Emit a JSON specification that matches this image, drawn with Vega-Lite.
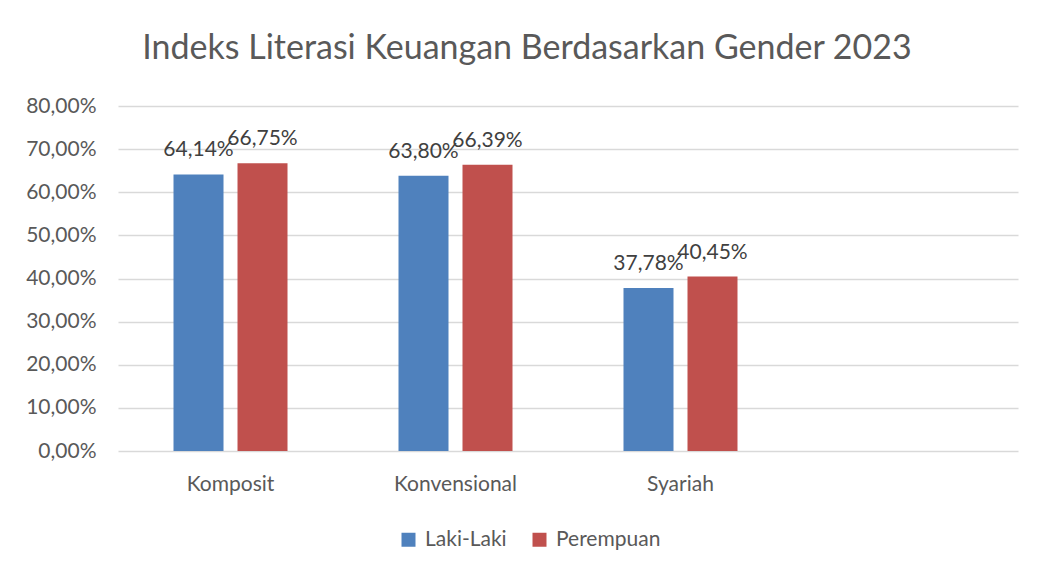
{
  "$schema": "https://vega.github.io/schema/vega-lite/v6.json",
  "width": 900,
  "height": 345,
  "autosize": {"type": "none"},
  "padding": {"left": 118, "top": 106, "right": 19, "bottom": 118},
  "background": "white",
  "config": {
    "locale": {"number": {"decimal": ",", "thousands": ".", "grouping": [3], "currency": ["Rp", ""]}},
    "font": "Lato",
    "view": {"stroke": null}
  },
  "title": {
    "text": "Indeks Literasi Keuangan Berdasarkan Gender 2023",
    "fontSize": 34,
    "font": "Lato",
    "fontWeight": "normal",
    "color": "#595959",
    "anchor": "middle",
    "frame": "group",
    "baseline": "alphabetic",
    "dx": -41,
    "offset": 2
  },
  "data": {
    "values": [
      {"kategori": "Komposit", "gender": "Laki-Laki", "nilai": 0.6414},
      {"kategori": "Komposit", "gender": "Perempuan", "nilai": 0.6675},
      {"kategori": "Konvensional", "gender": "Laki-Laki", "nilai": 0.638},
      {"kategori": "Konvensional", "gender": "Perempuan", "nilai": 0.6639},
      {"kategori": "Syariah", "gender": "Laki-Laki", "nilai": 0.3778},
      {"kategori": "Syariah", "gender": "Perempuan", "nilai": 0.4045}
    ]
  },
  "encoding": {
    "x": {
      "field": "kategori",
      "type": "nominal",
      "sort": null,
      "scale": {"domain": ["Komposit", "Konvensional", "Syariah", " "], "paddingInner": 0.4933, "paddingOuter": 0.2467},
      "axis": {
        "title": null,
        "labelAngle": 0,
        "labelFontSize": 21,
        "labelColor": "#595959",
        "labelPadding": 22,
        "ticks": false,
        "tickSize": 0,
        "domain": false,
        "grid": false
      }
    },
    "xOffset": {
      "field": "gender",
      "type": "nominal",
      "scale": {"domain": ["Laki-Laki", "Perempuan"], "paddingInner": 0.21875, "paddingOuter": 0}
    },
    "y": {
      "field": "nilai",
      "type": "quantitative",
      "scale": {"domain": [0, 0.8], "nice": false},
      "axis": {
        "title": null,
        "values": [0, 0.1, 0.2, 0.3, 0.4, 0.5, 0.6, 0.7, 0.8],
        "format": ".2%",
        "labelFontSize": 21,
        "labelColor": "#595959",
        "labelPadding": 22,
        "ticks": false,
        "domain": false,
        "grid": true,
        "gridColor": "#d9d9d9",
        "gridWidth": 1.5
      }
    }
  },
  "layer": [
    {
      "mark": {"type": "bar"},
      "encoding": {
        "color": {
          "field": "gender",
          "type": "nominal",
          "scale": {"domain": ["Laki-Laki", "Perempuan"], "range": ["#4F81BD", "#C0504D"]},
          "legend": {
            "orient": "none",
            "legendX": 280,
            "legendY": 423,
            "direction": "horizontal",
            "title": null,
            "symbolType": "square",
            "symbolSize": 196,
            "symbolStrokeWidth": 0,
            "symbolOpacity": 1,
            "labelFontSize": 21,
            "labelColor": "#595959",
            "labelOffset": 6,
            "columnPadding": 22,
            "padding": 0
          }
        }
      }
    },
    {
      "mark": {"type": "text", "baseline": "alphabetic", "dy": -18, "fontSize": 21, "color": "#404040"},
      "encoding": {
        "text": {"field": "nilai", "type": "quantitative", "format": ".2%"}
      }
    }
  ]
}
